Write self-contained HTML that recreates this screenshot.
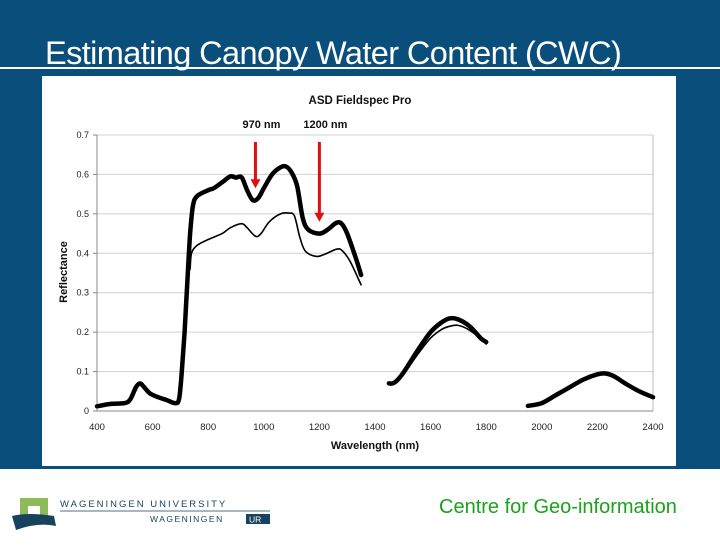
<!DOCTYPE html>
<html><head><meta charset="utf-8"><style>
html,body{margin:0;padding:0;}
body{width:720px;height:540px;position:relative;background:#fff;font-family:"Liberation Sans",sans-serif;overflow:hidden;}
#bg{position:absolute;left:0;top:0;width:720px;height:469px;background:#0a4f7c;}
#title{position:absolute;left:45px;top:35px;color:#fff;font-size:32.5px;letter-spacing:-0.6px;white-space:nowrap;}
#rule{position:absolute;left:0;top:67px;width:720px;height:2px;background:#fff;}
#panel{position:absolute;left:42px;top:76px;width:634px;height:390px;background:#fff;}
#footer-text{position:absolute;left:439px;top:496px;color:#1aa31a;font-size:20px;white-space:nowrap;}
</style></head><body>
<div id="bg"></div>
<div id="title">Estimating Canopy Water Content (CWC)</div>
<div id="rule"></div>
<div id="panel"></div>
<svg id="chart" width="720" height="540" style="position:absolute;left:0;top:0"></svg>
<svg width="280" height="60" style="position:absolute;left:8px;top:492px">
<rect x="12" y="6" width="28" height="26" fill="#8dbb5a"/>
<rect x="20" y="14" width="12" height="18" fill="#fff"/>
<path d="M4 24 Q20 20 46 24 L48 34 Q30 30 8 38 Z" fill="#17435f"/>
<text x="52" y="15" font-size="9.5" letter-spacing="2" fill="#17435f" font-family="Liberation Sans">WAGENINGEN UNIVERSITY</text>
<line x1="52" y1="19" x2="262" y2="19" stroke="#17435f" stroke-width="0.8"/>
<text x="142" y="30" font-size="8.5" letter-spacing="1.5" fill="#17435f" font-family="Liberation Sans">WAGENINGEN</text>
<rect x="238" y="22" width="24" height="10" fill="#17435f"/>
<text x="241" y="30.5" font-size="8.5" fill="#fff" font-family="Liberation Sans">UR</text>
</svg>
<div id="footer-text">Centre for Geo-information</div>
<script>
const xTicks=[400,600,800,1000,1200,1400,1600,1800,2000,2200,2400];
const yTicks=[0,0.1,0.2,0.3,0.4,0.5,0.6,0.7];
const yTickLabels=["0","0.1","0.2","0.3","0.4","0.5","0.6","0.7"];
const seg1X=[400,450,500,520,540,555,570,590,620,650,680,695,705,715,725,735,745,760,800,820,850,880,900,920,940,960,980,1000,1030,1060,1080,1100,1120,1140,1160,1200,1230,1260,1280,1300,1330,1350];
const seg1Thick=[0.012,0.018,0.02,0.03,0.06,0.07,0.06,0.045,0.035,0.028,0.02,0.03,0.1,0.2,0.33,0.45,0.52,0.545,0.56,0.565,0.58,0.595,0.592,0.593,0.56,0.535,0.54,0.565,0.6,0.618,0.62,0.605,0.57,0.49,0.46,0.45,0.46,0.477,0.475,0.45,0.39,0.345];
const seg1ThinX=[735,740,760,800,850,880,920,940,970,990,1020,1060,1090,1110,1130,1150,1190,1220,1260,1280,1310,1350];
const seg1Thin=[0.36,0.4,0.42,0.435,0.45,0.465,0.475,0.465,0.443,0.45,0.48,0.5,0.502,0.495,0.44,0.405,0.392,0.398,0.41,0.408,0.38,0.32];
const seg2X=[1450,1470,1500,1550,1600,1640,1670,1700,1740,1780,1800];
const seg2Thick=[0.07,0.072,0.095,0.15,0.2,0.225,0.235,0.232,0.215,0.185,0.175];
const seg2Thin=[0.07,0.072,0.09,0.14,0.185,0.207,0.215,0.217,0.205,0.183,0.17];
const seg3X=[1950,2000,2050,2100,2150,2200,2230,2260,2300,2350,2400];
const seg3Thick=[0.013,0.02,0.04,0.06,0.08,0.093,0.095,0.088,0.07,0.05,0.035];
const seg3Thin=[0.012,0.019,0.038,0.058,0.078,0.09,0.093,0.086,0.068,0.049,0.034];
const arrowNm=[970,1200];
const arrowLabels=["970 nm","1200 nm"];
const arrowTipY=[0.565,0.48];

const NS="http://www.w3.org/2000/svg";
const svg=document.getElementById('chart');
const X0=97,X1=653,Y0=411,Y1=135;
const sx=v=>X0+(v-400)/2000*(X1-X0);
const sy=v=>Y0-v/0.7*(Y0-Y1);
function mk(t,a){const e=document.createElementNS(NS,t);for(const k in a)e.setAttribute(k,a[k]);svg.appendChild(e);return e;}
yTicks.forEach((v,i)=>{
  const g=mk('line',{x1:X0,x2:X1,y1:sy(v),y2:sy(v),stroke:i==0?'#888':'#d0d0d0','stroke-width':1});
  
  
  const tk=mk('line',{x1:X0-4,x2:X0,y1:sy(v),y2:sy(v),stroke:'#888'});
  
  
  const t=mk('text',{x:X0-8,y:sy(v)+3,'font-size':9,'text-anchor':'end',fill:'#222'});
  t.textContent=yTickLabels[i];
  
  
});
const ax=mk('line',{x1:X0,x2:X0,y1:Y1,y2:Y0,stroke:'#888'});


const rb=mk('line',{x1:X1,x2:X1,y1:Y1,y2:Y0,stroke:'#bbb'});


xTicks.forEach(v=>{
  const t=mk('text',{x:sx(v),y:Y0+19,'font-size':9.5,'text-anchor':'middle',fill:'#222'});
  t.textContent=v;
  
  
});
function line(xs,ys,w,name){
  const P=xs.map((x,i)=>[sx(x),sy(ys[i])]);
  let d='M'+P[0][0].toFixed(1)+' '+P[0][1].toFixed(1);
  for(let i=0;i<P.length-1;i++){
    const p0=P[Math.max(0,i-1)],p1=P[i],p2=P[i+1],p3=P[Math.min(P.length-1,i+2)];
    const c1=[p1[0]+(p2[0]-p0[0])/6,p1[1]+(p2[1]-p0[1])/6];
    const c2=[p2[0]-(p3[0]-p1[0])/6,p2[1]-(p3[1]-p1[1])/6];
    d+=` C${c1[0].toFixed(1)} ${c1[1].toFixed(1)} ${c2[0].toFixed(1)} ${c2[1].toFixed(1)} ${p2[0].toFixed(1)} ${p2[1].toFixed(1)}`;
  }
  const p=mk('path',{d:d,fill:'none',stroke:'#000','stroke-width':w,'stroke-linejoin':'round','stroke-linecap':'round'});
  
  
}
line(seg1ThinX,seg1Thin,1.6,'thin-spectrum-vnir');
line(seg1X,seg1Thick,4.5,'thick-spectrum-vnir');
line(seg2X,seg2Thin,1.6,'thin-spectrum-swir1');
line(seg2X,seg2Thick,4.5,'thick-spectrum-swir1');
line(seg3X,seg3Thin,1.6,'thin-spectrum-swir2');
line(seg3X,seg3Thick,4.5,'thick-spectrum-swir2');
arrowNm.forEach((n,i)=>{
  const x=sx(n),tip=sy(arrowTipY[i]);
  const l=mk('line',{x1:x,x2:x,y1:142,y2:tip-8,stroke:'#e01010','stroke-width':3});
  
  
  const h=mk('polygon',{points:`${x-5},${tip-9} ${x+5},${tip-9} ${x},${tip}`,fill:'#e01010'});
  
  
  const t=mk('text',{x:x+6,y:128,'font-size':11,'font-weight':'bold','text-anchor':'middle',fill:'#111'});
  t.textContent=arrowLabels[i];
  
  
});
const ct=mk('text',{x:360,y:104,'font-size':11.5,'font-weight':'bold','text-anchor':'middle',fill:'#111'});
ct.textContent='ASD Fieldspec Pro';


const xt=mk('text',{x:375,y:449,'font-size':11,'font-weight':'bold','text-anchor':'middle',fill:'#111'});
xt.textContent='Wavelength (nm)';


const yt=mk('text',{x:0,y:0,'font-size':11,'font-weight':'bold','text-anchor':'middle',fill:'#111',transform:'translate(67,272) rotate(-90)'});
yt.textContent='Reflectance';


</script>
</body></html>
